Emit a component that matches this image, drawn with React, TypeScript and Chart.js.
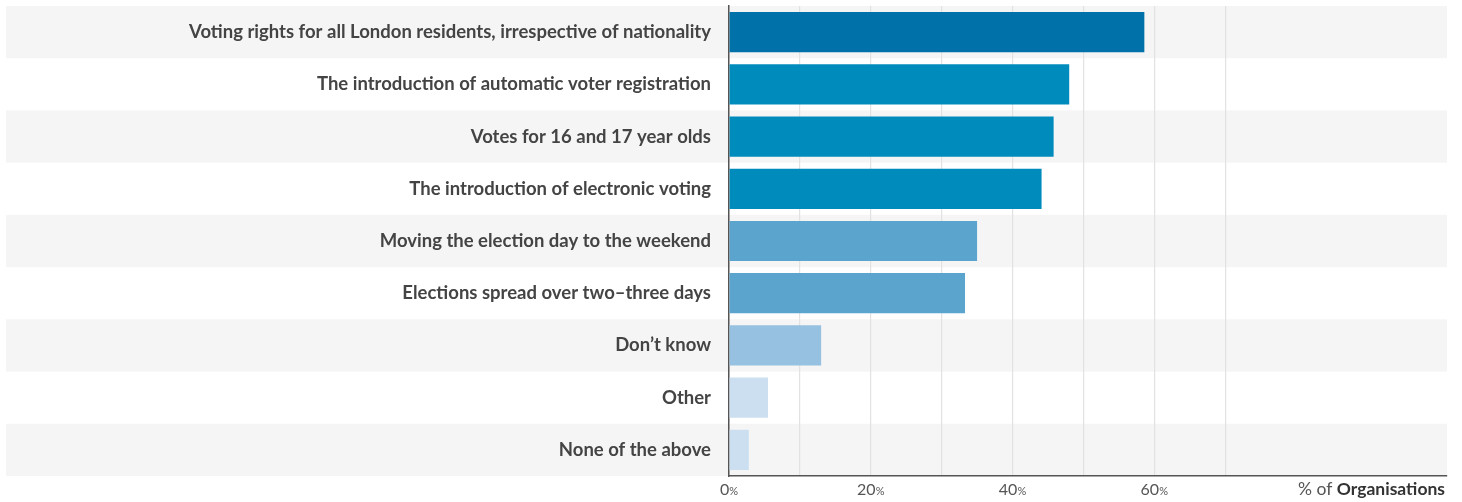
import React, { useEffect, useRef } from "react";
import { Chart, registerables } from "chart.js";

Chart.register(...registerables);

const categories = [
  "Voting rights for all London residents, irrespective of nationality",
  "The introduction of automatic voter registration",
  "Votes for 16 and 17 year olds",
  "The introduction of electronic voting",
  "Moving the election day to the weekend",
  "Elections spread over two\u2013three days",
  "Don\u2019t know",
  "Other",
  "None of the above",
];
const values = [58.6, 48.0, 45.8, 44.1, 35.0, 33.3, 13.0, 5.5, 2.8];
const barColors = [
  "#0072A9",
  "#008BBD",
  "#008BBD",
  "#008BBD",
  "#5BA4CE",
  "#5BA4CE",
  "#97C1E0",
  "#CBDFF0",
  "#CBDFF0",
];
const gridValues = [0, 10, 20, 30, 40, 50, 60, 70];
const tickLabels = [0, 20, 40, 60];
const axisTitleRegular = "% of ";
const axisTitleBold = "Organisations";

const FONT = "Lato";

const bandsPlugin = {
  id: "bands",
  beforeDraw(chart: any) {
    const { ctx, chartArea, scales } = chart;
    const y = scales.y;
    const step = y.getPixelForValue(1) - y.getPixelForValue(0);
    ctx.save();
    ctx.fillStyle = "#f5f5f5";
    categories.forEach((_, i) => {
      if (i % 2 === 0) {
        const c = y.getPixelForValue(i);
        ctx.fillRect(6, c - step / 2, chartArea.right - 6, step);
      }
    });
    ctx.restore();
  },
  afterDraw(chart: any) {
    const { ctx, chartArea, scales } = chart;
    const x = scales.x;
    const baseline = chartArea.bottom + 19;
    ctx.save();
    ctx.textBaseline = "alphabetic";
    ctx.fillStyle = "#555";
    tickLabels.forEach((v) => {
      const px = x.getPixelForValue(v);
      const num = String(v);
      ctx.font = `400 16px ${FONT}`;
      const w1 = ctx.measureText(num).width;
      ctx.font = `400 11px ${FONT}`;
      const w2 = ctx.measureText("%").width;
      const start = px - (w1 + w2) / 2;
      ctx.font = `400 16px ${FONT}`;
      ctx.textAlign = "left";
      ctx.fillText(num, start, baseline);
      ctx.font = `400 11px ${FONT}`;
      ctx.fillText("%", start + w1, baseline);
    });
    ctx.font = `700 17.5px ${FONT}`;
    const wb = ctx.measureText(axisTitleBold).width;
    const right = chartArea.right - 2;
    ctx.textAlign = "right";
    ctx.fillStyle = "#333";
    ctx.fillText(axisTitleBold, right, baseline);
    ctx.font = `400 17.5px ${FONT}`;
    ctx.fillStyle = "#555";
    ctx.fillText(axisTitleRegular, right - wb, baseline);
    ctx.restore();
  },
};

export default function App() {
  const ref = useRef<HTMLCanvasElement | null>(null);
  useEffect(() => {
    if (!ref.current) return;
    const chart = new Chart(ref.current, {
      type: "bar",
      data: {
        labels: categories,
        datasets: [
          {
            data: values,
            backgroundColor: barColors,
            borderWidth: 0,
            barPercentage: 0.77,
            categoryPercentage: 1,
          },
        ],
      },
      options: {
        indexAxis: "y",
        animation: false,
        responsive: true,
        maintainAspectRatio: false,
        layout: { padding: { top: 6, right: 15, left: 0, bottom: 0 } },
        plugins: { legend: { display: false }, tooltip: { enabled: false } },
        scales: {
          x: {
            type: "linear",
            min: 0,
            max: 101.3,
            afterBuildTicks: (scale: any) => {
              scale.ticks = gridValues.map((v) => ({ value: v }));
            },
            afterFit: (scale: any) => {
              scale.height = 26;
              scale.paddingLeft = 0;
              scale.paddingRight = 0;
              scale.paddingTop = 0;
              scale.paddingBottom = 0;
            },
            ticks: { display: false },
            grid: {
              drawTicks: false,
              color: (c: any) =>
                c.tick && c.tick.value > 0 && c.tick.value <= 70 ? "#e2e2e2" : "rgba(0,0,0,0)",
              lineWidth: 1.2,
            },
            border: { display: true, color: "#555", width: 1.5 },
          },
          y: {
            afterFit: (scale: any) => {
              scale.width = 729;
              scale.paddingTop = 0;
              scale.paddingBottom = 0;
              scale.paddingLeft = 0;
              scale.paddingRight = 0;
            },
            grid: { display: false, drawTicks: false },
            border: { display: true, color: "#555", width: 1.5 },
            ticks: {
              padding: 18,
              color: "#444",
              font: { family: FONT, size: 18.5, weight: "bold" },
            },
          },
        },
      },
      plugins: [bandsPlugin],
    });
    return () => chart.destroy();
  }, []);
  return (
    <div style={{ position: "fixed", left: 0, top: 0, width: 1462, height: 502 }}>
      <canvas ref={ref} />
    </div>
  );
}
